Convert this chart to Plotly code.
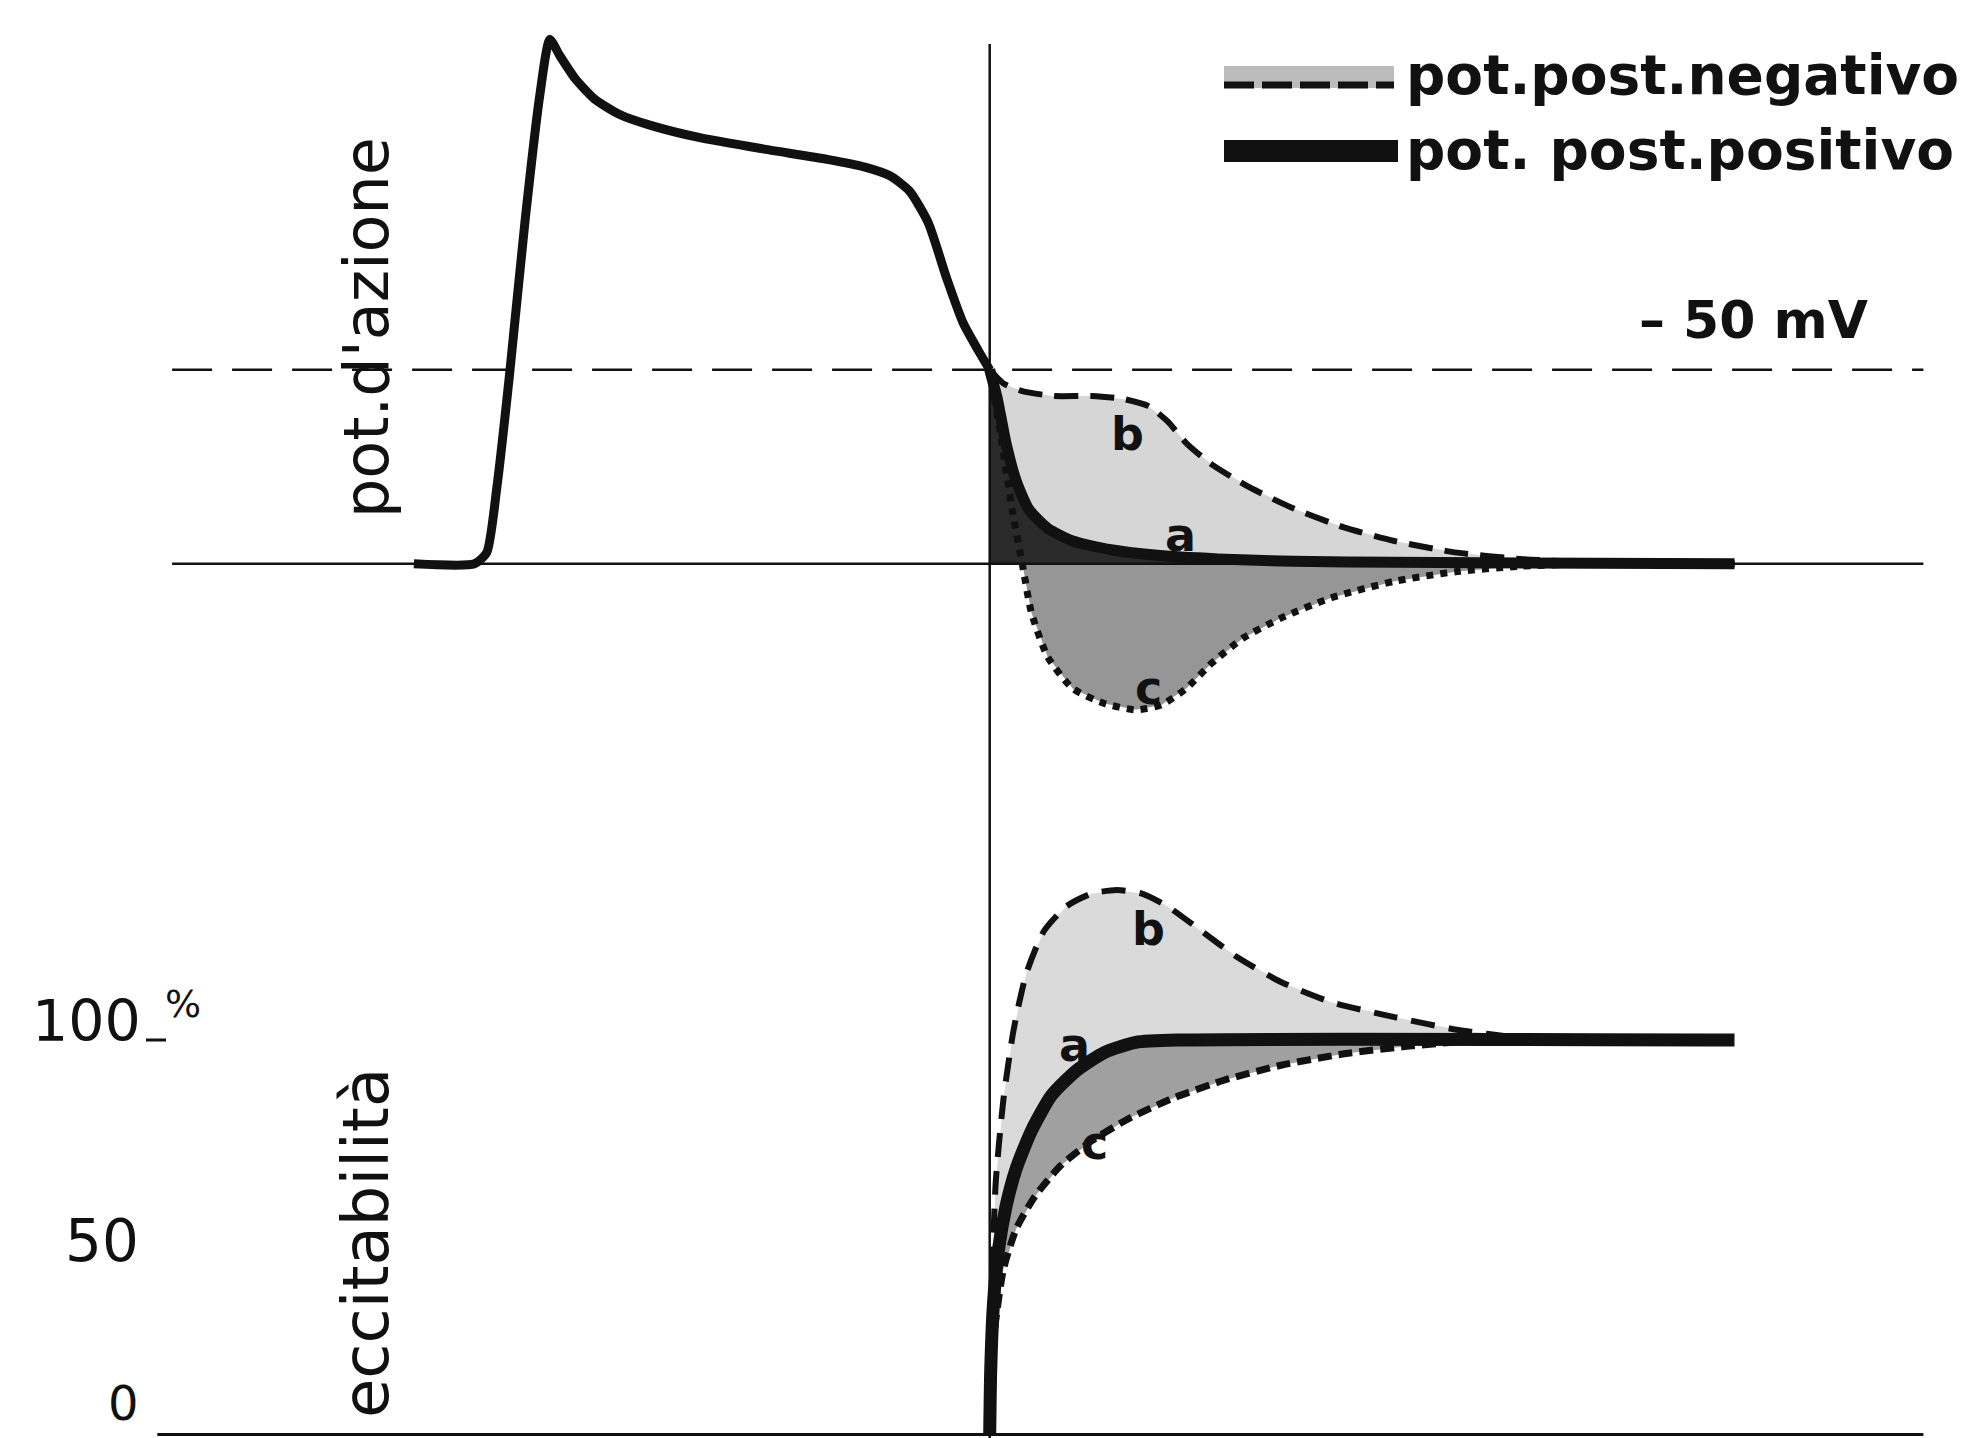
import plotly.graph_objects as go

# ---------------- data ----------------
# time axis in ms (0 = onset of the action potential), potentials in mV, excitability in %
REST = -90
THRESH = -50
T_AXIS = [-60.6, 283.4]          # extent of the drawn reference lines
T_BOTTOM_AXIS = [-63.5, 283.4]
T_MARK = 100                     # vertical reference line

ap_t = [-13.1, -1.2, 1.2, 3.2, 5.7, 8.7, 11.6, 13.6, 15.6, 18.6, 22.3, 27.2, 33.4, 43.3,
        55.7, 68.1, 75.5, 80.4, 84.2, 87.9, 91.6, 94.8, 97.8, 100.0]
ap_v = [-90, -90, -87.7, -74.2, -50.8, -19.6, 6.4, 18.1, 14.7, 10.0, 5.9, 2.7, 0.4, -2.2,
        -4.5, -6.6, -8.2, -10.0, -13.1, -19.6, -31.3, -40.4, -46.1, -50.0]

# after-potentials
a_t = [100.0, 101.5, 103.2, 105.2, 107.7, 111.4, 116.3, 123.8, 132.4, 144.8, 159.7, 179.5, 246.3]
a_v = [-50.0, -56.0, -65.1, -72.9, -78.8, -82.7, -85.3, -87.1, -88.2, -89.0, -89.5, -89.7, -90.0]

b_t = [100.0, 102.7, 106.4, 112.6, 120.0, 126.2, 131.2, 134.9, 138.6, 143.6, 151.0, 159.7,
       169.6, 179.5, 191.8, 204.2, 219.1, 246.3]
b_v = [-50.0, -52.8, -54.4, -55.4, -55.4, -56.0, -57.5, -60.6, -65.1, -69.5, -74.2, -78.6,
       -82.5, -85.3, -87.7, -89.0, -89.7, -90.0]

c_t = [100.0, 102.2, 104.5, 106.4, 108.2, 111.4, 116.3, 122.5, 128.7, 133.7, 138.6, 143.6,
       149.8, 157.2, 167.1, 179.5, 191.8, 204.2, 219.1, 246.3]
c_v = [-50.0, -63.8, -79.3, -90.0, -100.1, -109.2, -115.7, -118.8, -120.1, -119.1, -115.7,
       -110.5, -105.3, -101.2, -97.0, -93.6, -91.6, -90.5, -90.0, -90.0]

# excitability
ea_t = [100.0, 100.2, 100.7, 101.7, 103.2, 105.2, 108.2, 112.1, 117.1, 122.5, 128.7, 137.4, 246.3]
ea_v = [0, 16.3, 32.3, 46.6, 57.8, 67.4, 77.0, 85.9, 92.3, 96.8, 99.4, 100, 100]

eb_t = [100.5, 101.2, 102.7, 104.7, 107.2, 110.6, 115.1, 120.0, 125.0, 129.9, 134.9, 141.1,
        148.5, 157.2, 167.1, 179.5, 191.8, 204.2, 216.6]
eb_v = [41.5, 64.2, 85.0, 102.6, 116.9, 127.5, 133.9, 137.1, 138.0, 137.1, 133.9, 128.1,
        121.1, 114.7, 109.6, 105.8, 102.6, 100.6, 100]

ec_t = [100.2, 101.2, 102.7, 105.2, 108.9, 113.9, 120.0, 127.5, 136.1, 146.0, 157.2, 169.6,
        181.9, 194.3, 206.7]
ec_v = [16.3, 29.1, 41.9, 52.1, 60.4, 68.1, 74.4, 80.2, 85.3, 89.8, 93.6, 96.5, 98.4, 99.7, 100]

# curve letters (t, value)
top_letters = [("b", 127.0, -63.2), ("a", 137.4, -84.0), ("c", 131.2, -115.7)]
bot_letters = [("b", 131.2, 128.1), ("a", 116.6, 98.7), ("c", 120.5, 73.8)]

exc_ticks = [0, 50, 100]
exc_tick_text = ["0", "50", "100"]

legend_labels = ["pot.post.negativo", "pot. post.positivo"]
threshold_label = "– 50 mV"
ylabel_top = "pot.d'azione"
ylabel_bottom = "eccitabilità"

# ---------------- figure ----------------
W, H = 1976, 1438
FONT = "DejaVu Sans"
BLACK = "#111111"

fig = go.Figure()


def add(x, y, yaxis="y", **kw):
    fig.add_trace(go.Scatter(x=x, y=y, yaxis=yaxis, mode="lines", showlegend=False,
                             hoverinfo="skip", **kw))


INVIS = dict(width=0)
SPL = dict(shape="spline", smoothing=0.6)

# --- top panel fills ---
add(a_t, a_v, line=INVIS)
add(b_t, b_v, line=INVIS, fill="tonexty", fillcolor="#d6d6d6")
add(a_t, a_v, line=INVIS)
add(c_t, c_v, line=INVIS, fill="tonexty", fillcolor="#969696")
add([a_t[0], a_t[-1]], [REST, REST], line=INVIS)
add(a_t, a_v, line=INVIS, fill="tonexty", fillcolor="#2a2a2a")

# --- bottom panel fills ---
add(ea_t, ea_v, "y2", line=INVIS)
add(eb_t, eb_v, "y2", line=INVIS, fill="tonexty", fillcolor="#dadada")
add(ea_t, ea_v, "y2", line=INVIS)
add(ec_t, ec_v, "y2", line=INVIS, fill="tonexty", fillcolor="#a0a0a0")

# --- curves ---
add(ap_t, ap_v, line=dict(color=BLACK, width=9, **SPL))
add(b_t, b_v, line=dict(color=BLACK, width=6, dash="24px,12px", **SPL))
add(c_t, c_v, line=dict(color=BLACK, width=7, dash="dot", **SPL))
add(a_t, a_v, line=dict(color=BLACK, width=11, **SPL))

add(eb_t, eb_v, "y2", line=dict(color=BLACK, width=6, dash="24px,14px", **SPL))
add(ec_t, ec_v, "y2", line=dict(color=BLACK, width=7, dash="14px,7px", **SPL))
add(ea_t, ea_v, "y2", line=dict(color=BLACK, width=13, **SPL))

# --- reference lines ---
shapes = [
    dict(type="line", xref="x", yref="y", x0=T_AXIS[0], x1=T_AXIS[1], y0=REST, y1=REST,
         line=dict(color=BLACK, width=2.5)),
    dict(type="line", xref="x", yref="y", x0=T_AXIS[0], x1=T_AXIS[1], y0=THRESH, y1=THRESH,
         line=dict(color=BLACK, width=2.5, dash="40px,20px")),
    dict(type="line", xref="x", yref="y2", x0=T_BOTTOM_AXIS[0], x1=T_BOTTOM_AXIS[1],
         y0=0, y1=0, line=dict(color=BLACK, width=3)),
    dict(type="line", xref="x", yref="paper", x0=T_MARK, x1=T_MARK, y0=0, y1=1 - 36 / H,
         line=dict(color=BLACK, width=2.5)),
    # legend swatches
    dict(type="rect", xref="paper", yref="paper", x0=1216 / W, x1=1386 / W, y0=1 - 80 / H, y1=1 - 58 / H,
         fillcolor="#bcbcbc", line=dict(width=0)),
    dict(type="line", xref="paper", yref="paper", x0=1216 / W, x1=1386 / W, y0=1 - 77 / H, y1=1 - 77 / H,
         line=dict(color=BLACK, width=7, dash="30px,8px")),
    dict(type="rect", xref="paper", yref="paper", x0=1216 / W, x1=1390 / W, y0=1 - 154 / H, y1=1 - 132 / H,
         fillcolor=BLACK, line=dict(width=0)),
    # small tick after 100
    dict(type="line", xref="paper", yref="y2", x0=138 / W, x1=158 / W, y0=100, y1=100,
         line=dict(color=BLACK, width=3)),
]

annotations = []
for (txt, yp) in zip(legend_labels, [67, 142]):
    annotations.append(dict(text="<b>%s</b>" % txt, xref="paper", yref="paper", x=1396 / W, y=1 - yp / H,
                            xanchor="left", yanchor="middle", showarrow=False,
                            font=dict(family=FONT, size=55, color=BLACK)))
annotations.append(dict(text="<b>%s</b>" % threshold_label, xref="paper", yref="y", x=1745 / W, y=THRESH,
                        xanchor="center", yanchor="bottom", yshift=18, showarrow=False,
                        font=dict(family=FONT, size=52, color=BLACK)))
annotations.append(dict(text=ylabel_top, xref="paper", yref="paper", x=358 / W, y=1 - 320 / H,
                        textangle=-90, xanchor="center", yanchor="middle", showarrow=False,
                        font=dict(family=FONT, size=62, color=BLACK)))
annotations.append(dict(text=ylabel_bottom, xref="paper", yref="paper", x=358 / W, y=1 - 1235 / H,
                        textangle=-90, xanchor="center", yanchor="middle", showarrow=False,
                        font=dict(family=FONT, size=64, color=BLACK)))
for (txt, t, v) in top_letters:
    annotations.append(dict(text="<b>%s</b>" % txt, x=t, y=v, xref="x", yref="y", showarrow=False,
                            font=dict(family=FONT, size=46, color=BLACK)))
for (txt, t, v) in bot_letters:
    annotations.append(dict(text="<b>%s</b>" % txt, x=t, y=v, xref="x", yref="y2", showarrow=False,
                            font=dict(family=FONT, size=46, color=BLACK)))
tick_right = {0: 132, 50: 132, 100: 134}
tick_shift = {0: 32, 50: -4, 100: 19}
tick_size = {0: 48, 50: 58, 100: 57}
for v, txt in zip(exc_ticks, exc_tick_text):
    annotations.append(dict(text=txt, xref="paper", yref="y2", x=tick_right[v] / W, y=v,
                            xanchor="right", yanchor="middle", yshift=tick_shift[v], showarrow=False,
                            borderpad=0,
                            font=dict(family=FONT, size=tick_size[v], color=BLACK)))
annotations.append(dict(text="%", xref="paper", yref="y2", x=175 / W, y=100, xanchor="center",
                        yanchor="middle", yshift=36, showarrow=False,
                        font=dict(family=FONT, size=38, color=BLACK)))

# axis ranges chosen so both panels share the canvas
px_per_ms = 5.091
x0_px = 472.6
px_per_mV = 4.85
rest_px = 555.8
px_per_pct = 3.945
zero_px = 1426.5

fig.update_layout(
    width=W, height=H,
    margin=dict(l=0, r=0, t=0, b=0),
    paper_bgcolor="white", plot_bgcolor="white",
    showlegend=False,
    xaxis=dict(range=[-x0_px / px_per_ms, (W - x0_px) / px_per_ms], visible=False, fixedrange=True),
    yaxis=dict(range=[REST - (H - rest_px) / px_per_mV, REST + rest_px / px_per_mV], visible=False),
    yaxis2=dict(range=[-(H - zero_px) / px_per_pct, zero_px / px_per_pct], visible=False,
                overlaying="y"),
    shapes=shapes,
    annotations=annotations,
)

fig.write_html("out.html")
